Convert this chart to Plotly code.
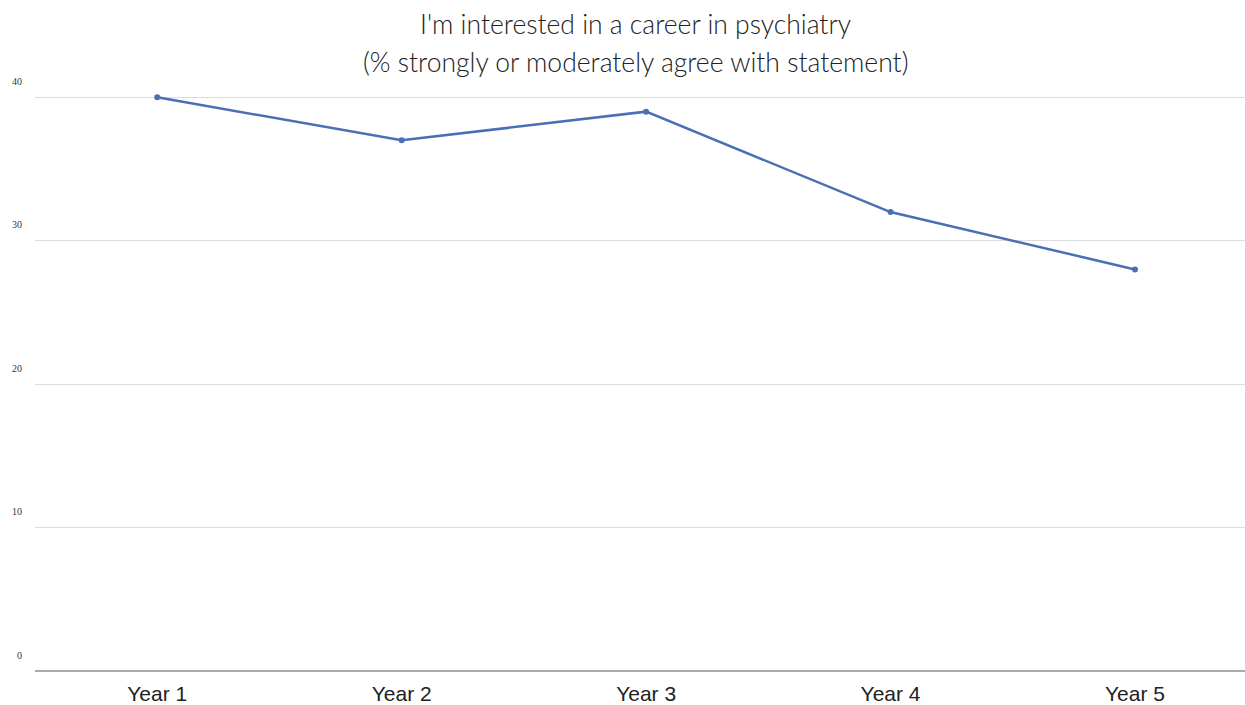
import plotly.graph_objects as go

years = ["Year 1", "Year 2", "Year 3", "Year 4", "Year 5"]
values = [40, 37, 39, 32, 28]
y_ticks = [0, 10, 20, 30, 40]
title_lines = ["I'm interested in a career in psychiatry",
               "(% strongly or moderately agree with statement)"]

fig = go.Figure()
fig.add_trace(go.Scatter(
    x=list(range(len(years))), y=values, mode="lines+markers",
    line=dict(color="#4a6fb5", width=2.5),
    marker=dict(color="#4a6fb5", size=6),
    cliponaxis=False,
    hoverinfo="skip", showlegend=False,
))

fig.update_layout(
    width=1245, height=705,
    margin=dict(l=35, r=0, t=93, b=34),
    paper_bgcolor="white", plot_bgcolor="white",
    xaxis=dict(
        range=[-0.5, 4.45], tickmode="array",
        tickvals=list(range(len(years))), ticktext=years,
        showgrid=False, zeroline=False, showline=False,
        tickfont=dict(family="Liberation Sans, Arial", size=21, color="#222"),
        ticks="", ticklabelstandoff=8,
    ),
    yaxis=dict(
        range=[0, 40.3], tickmode="array", tickvals=y_ticks,
        showgrid=True, gridcolor="#dcdcdc", gridwidth=1,
        zeroline=True, zerolinecolor="#aaaaaa", zerolinewidth=1.5,
        showline=False, ticks="",
        tickfont=dict(family="Liberation Serif, serif", size=10, color="#333"),
        ticklabelshift=-16, ticklabelstandoff=12,
    ),
)

for i, (line, yp) in enumerate(zip(title_lines, [24, 62])):
    fig.add_annotation(
        text=line, xref="paper", yref="paper",
        x=(635 - 35) / 1210, y=(705 - yp - 34) / (705 - 93 - 34),
        xanchor="center", yanchor="middle", showarrow=False,
        font=dict(family="Lato, Open Sans, sans-serif", size=26.5, color="#222",
                  weight=300),
    )

fig.write_html("out.html", config={"displayModeBar": False},
               post_script="document.body.style.margin='0';")
